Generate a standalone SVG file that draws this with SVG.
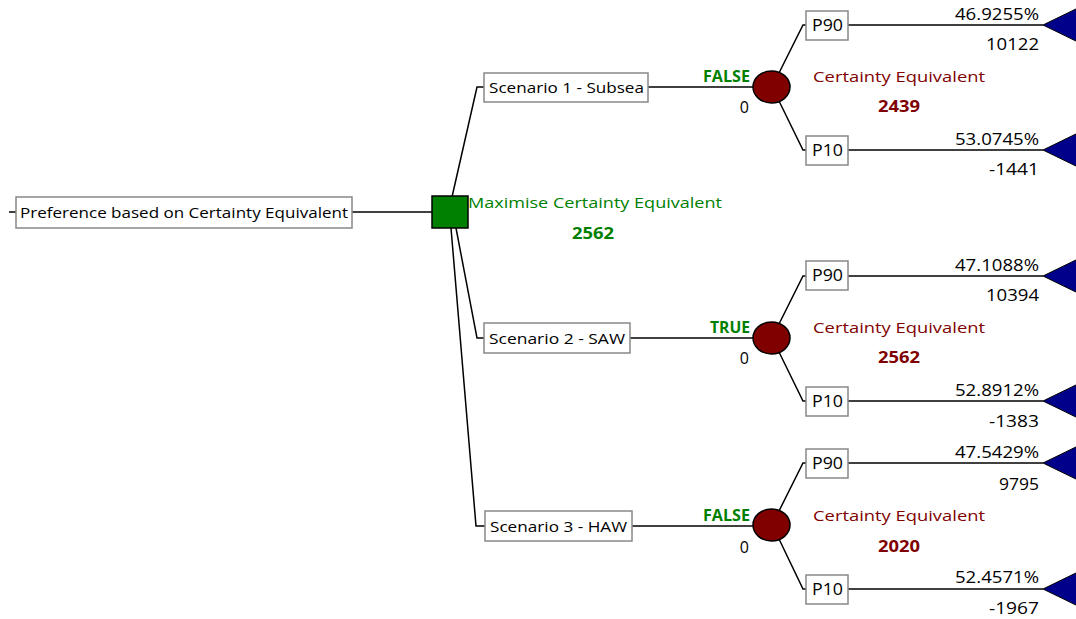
<svg xmlns="http://www.w3.org/2000/svg" width="1076" height="619" viewBox="0 0 1076 619">
<style>
  text { font-family: "Open Sans", "Liberation Sans", sans-serif; font-size: 15px; fill: #000; }
  .num { font-size: 16px; }
  .box { fill: #fff; stroke: #888; stroke-width: 1.5; }
  .ln { fill: none; stroke: #000; stroke-width: 1.5; }
  .dec { fill: #008000; stroke: #000; stroke-width: 1.5; }
  .chance { fill: #800000; stroke: #000; stroke-width: 1.5; }
  .term { fill: #00008B; stroke: #000; stroke-width: 1; }
  .g { fill: #008000; }
  .gb { fill: #008000; font-weight: bold; font-size: 16px; }
  .r { fill: #800000; }
  .rb { fill: #800000; font-weight: bold; font-size: 16px; }
  .end { text-anchor: end; }
  .mid { text-anchor: middle; }
</style>

<!-- connectors -->
<g id="connectors">
  <path class="ln" d="M9,212 H16"/>
  <path class="ln" d="M352,212 H432"/>
  <path class="ln" d="M452,197 L477,87 H484"/>
  <path class="ln" d="M456,228 L477,338 H484"/>
  <path class="ln" d="M451,228 L476,526 H485"/>
  <path class="ln" d="M648,87 H753"/>
  <path class="ln" d="M630,338 H753"/>
  <path class="ln" d="M632,526 H753"/>
  <!-- scenario 1 branches -->
  <path class="ln" d="M779,73 L803,25 H806"/>
  <path class="ln" d="M779,101 L803,150 H806"/>
  <path class="ln" d="M848,25 H1043"/>
  <path class="ln" d="M848,150 H1043"/>
  <!-- scenario 2 branches -->
  <path class="ln" d="M779,324 L803,276 H806"/>
  <path class="ln" d="M779,352 L803,401 H806"/>
  <path class="ln" d="M848,276 H1043"/>
  <path class="ln" d="M848,401 H1043"/>
  <!-- scenario 3 branches -->
  <path class="ln" d="M779,511 L803,463 H806"/>
  <path class="ln" d="M779,539 L803,589 H806"/>
  <path class="ln" d="M848,463 H1043"/>
  <path class="ln" d="M848,589 H1043"/>
</g>

<!-- root -->
<g id="root">
  <rect class="box" x="16" y="197" width="336" height="31"/>
  <text x="20" y="218" textLength="328" lengthAdjust="spacingAndGlyphs">Preference based on Certainty Equivalent</text>
</g>

<!-- decision node -->
<g id="decision">
  <rect class="dec" x="432" y="196" width="36" height="32"/>
  <text class="g" x="468" y="208" textLength="254" lengthAdjust="spacingAndGlyphs">Maximise Certainty Equivalent</text>
  <text class="gb" x="572" y="239" textLength="42" lengthAdjust="spacingAndGlyphs">2562</text>
</g>

<!-- scenario 1 -->
<g id="scenario1">
  <rect class="box" x="484" y="73" width="164" height="29"/>
  <text x="489" y="93" textLength="155" lengthAdjust="spacingAndGlyphs">Scenario 1 - Subsea</text>
  <text class="gb" x="703" y="82" textLength="47" lengthAdjust="spacingAndGlyphs">FALSE</text>
  <text class="num end" x="749" y="113">0</text>
</g>
<g id="chance1">
  <ellipse class="chance" cx="771.5" cy="87" rx="18.5" ry="16"/>
  <text class="r" x="813" y="82" textLength="172" lengthAdjust="spacingAndGlyphs">Certainty Equivalent</text>
  <text class="rb" x="878" y="112" textLength="42" lengthAdjust="spacingAndGlyphs">2439</text>
</g>
<g id="s1p90">
  <rect class="box" x="806" y="11" width="42" height="29"/>
  <text class="num" x="812" y="31" textLength="31" lengthAdjust="spacingAndGlyphs">P90</text>
  <text class="num" x="955" y="20" textLength="84" lengthAdjust="spacingAndGlyphs">46.9255%</text>
  <text class="num" x="986" y="50" textLength="53" lengthAdjust="spacingAndGlyphs">10122</text>
  <polygon class="term" points="1043,25 1080,7 1080,43"/>
</g>
<g id="s1p10">
  <rect class="box" x="806" y="136" width="42" height="29"/>
  <text class="num" x="812" y="156" textLength="31" lengthAdjust="spacingAndGlyphs">P10</text>
  <text class="num" x="955" y="145" textLength="84" lengthAdjust="spacingAndGlyphs">53.0745%</text>
  <text class="num" x="989" y="175" textLength="50" lengthAdjust="spacingAndGlyphs">-1441</text>
  <polygon class="term" points="1043,150 1080,132 1080,168"/>
</g>

<!-- scenario 2 -->
<g id="scenario2">
  <rect class="box" x="484" y="323" width="146" height="30"/>
  <text x="489" y="344" textLength="136" lengthAdjust="spacingAndGlyphs">Scenario 2 - SAW</text>
  <text class="gb" x="710" y="333" textLength="40" lengthAdjust="spacingAndGlyphs">TRUE</text>
  <text class="num end" x="749" y="364">0</text>
</g>
<g id="chance2">
  <ellipse class="chance" cx="771.5" cy="338" rx="18.5" ry="16"/>
  <text class="r" x="813" y="333" textLength="172" lengthAdjust="spacingAndGlyphs">Certainty Equivalent</text>
  <text class="rb" x="878" y="363" textLength="42" lengthAdjust="spacingAndGlyphs">2562</text>
</g>
<g id="s2p90">
  <rect class="box" x="806" y="261" width="42" height="29"/>
  <text class="num" x="812" y="281" textLength="31" lengthAdjust="spacingAndGlyphs">P90</text>
  <text class="num" x="955" y="271" textLength="84" lengthAdjust="spacingAndGlyphs">47.1088%</text>
  <text class="num" x="986" y="301" textLength="53" lengthAdjust="spacingAndGlyphs">10394</text>
  <polygon class="term" points="1043,276 1080,258 1080,294"/>
</g>
<g id="s2p10">
  <rect class="box" x="806" y="387" width="42" height="29"/>
  <text class="num" x="812" y="407" textLength="31" lengthAdjust="spacingAndGlyphs">P10</text>
  <text class="num" x="955" y="396" textLength="84" lengthAdjust="spacingAndGlyphs">52.8912%</text>
  <text class="num" x="989" y="427" textLength="50" lengthAdjust="spacingAndGlyphs">-1383</text>
  <polygon class="term" points="1043,401 1080,383 1080,419"/>
</g>

<!-- scenario 3 -->
<g id="scenario3">
  <rect class="box" x="485" y="511" width="147" height="30"/>
  <text x="490" y="532" textLength="137" lengthAdjust="spacingAndGlyphs">Scenario 3 - HAW</text>
  <text class="gb" x="703" y="521" textLength="47" lengthAdjust="spacingAndGlyphs">FALSE</text>
  <text class="num end" x="749" y="553">0</text>
</g>
<g id="chance3">
  <ellipse class="chance" cx="771.5" cy="525" rx="18.5" ry="16"/>
  <text class="r" x="813" y="521" textLength="172" lengthAdjust="spacingAndGlyphs">Certainty Equivalent</text>
  <text class="rb" x="878" y="552" textLength="42" lengthAdjust="spacingAndGlyphs">2020</text>
</g>
<g id="s3p90">
  <rect class="box" x="806" y="449" width="42" height="29"/>
  <text class="num" x="812" y="469" textLength="31" lengthAdjust="spacingAndGlyphs">P90</text>
  <text class="num" x="955" y="458" textLength="84" lengthAdjust="spacingAndGlyphs">47.5429%</text>
  <text class="num" x="999" y="490" textLength="40" lengthAdjust="spacingAndGlyphs">9795</text>
  <polygon class="term" points="1043,463 1080,445 1080,481"/>
</g>
<g id="s3p10">
  <rect class="box" x="806" y="575" width="42" height="29"/>
  <text class="num" x="812" y="595" textLength="31" lengthAdjust="spacingAndGlyphs">P10</text>
  <text class="num" x="955" y="583" textLength="84" lengthAdjust="spacingAndGlyphs">52.4571%</text>
  <text class="num" x="989" y="614" textLength="50" lengthAdjust="spacingAndGlyphs">-1967</text>
  <polygon class="term" points="1043,589 1080,571 1080,607"/>
</g>
</svg>
